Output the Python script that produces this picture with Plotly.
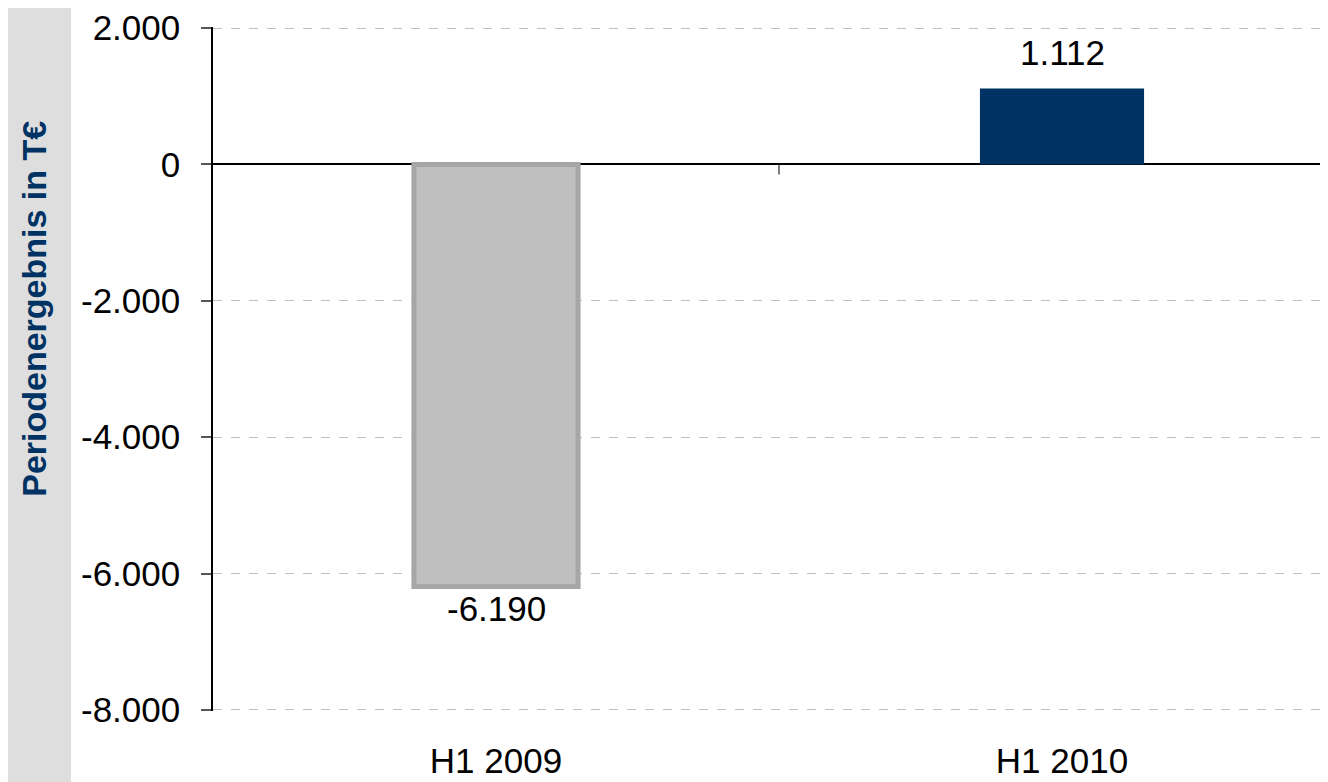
import plotly.graph_objects as go

categories = ["H1 2009", "H1 2010"]
values = [-6190, 1112]
bar_colors = ["#BFBFBF", "#003263"]
bar_line_colors = ["#A6A6A6", "#003263"]
bar_line_widths = [5, 0]
y_tickvals = [2000, 0, -2000, -4000, -6000, -8000]
y_ticktext = ["2.000", "0", "-2.000", "-4.000", "-6.000", "-8.000"]
y_title = "Periodenergebnis in T€"


def de_fmt(v):
    s = f"{abs(v):,}".replace(",", ".")
    return ("-" if v < 0 else "") + s


FONT = "Liberation Sans, Arial"
W, H = 1328, 782
OFF = 8  # page body margin
ml, mr, mt, mb = 213 - OFF, 0, 16, 79
plot_w = W - ml - mr
plot_h = H - mt - mb

fig = go.Figure()
fig.add_trace(go.Bar(
    x=categories,
    y=values,
    width=0.29,
    marker=dict(color=bar_colors, line=dict(color=bar_line_colors, width=bar_line_widths)),
    showlegend=False,
    hoverinfo="x+y",
))

# data labels
for c, v in zip(categories, values):
    fig.add_annotation(x=c, y=v, text=de_fmt(v), showarrow=False,
                       xref="x", yref="y", yanchor="middle",
                       yshift=36 if v >= 0 else -22,
                       font=dict(size=35, color="black", family=FONT))

# left grey band
fig.add_shape(type="rect", xref="paper", yref="paper",
              x0=-(ml + 20) / plot_w, x1=(71 - OFF - ml) / plot_w,
              y0=-(mb + 20) / plot_h, y1=1 + (mt + 20) / plot_h,
              fillcolor="#DEDEDE", line=dict(width=0), layer="below")

# category divider tick on the zero line
fig.add_shape(type="line", xref="x", yref="y", x0=0.5, x1=0.5,
              ysizemode="pixel", yanchor=0, y0=0, y1=-10,
              line=dict(color="#555555", width=1.5))

fig.add_annotation(text="<b>" + y_title + "</b>", xref="paper", yref="paper",
                   x=(34 - OFF - ml) / plot_w, y=((H - mb) - (307 - OFF)) / plot_h,
                   textangle=-90, showarrow=False,
                   font=dict(size=34, color="#003263", family=FONT),
                   xanchor="center", yanchor="middle")

fig.update_layout(
    width=W, height=H,
    margin=dict(l=ml, r=mr, t=mt, b=mb),
    paper_bgcolor="white", plot_bgcolor="white",
    font=dict(family=FONT, size=35, color="black"),
    xaxis=dict(
        range=[-0.5, -0.5 + plot_w / 566],
        showgrid=False, zeroline=False, showline=False, ticks="",
        tickfont=dict(size=35), ticklabelstandoff=26,
    ),
    yaxis=dict(
        range=[-8015, 2015],
        tickvals=y_tickvals, ticktext=y_ticktext,
        showgrid=True, gridcolor="#C0C0C0", griddash="dash", gridwidth=1,
        zeroline=True, zerolinecolor="black", zerolinewidth=1.5,
        showline=True, linecolor="black", linewidth=1.5,
        ticks="outside", ticklen=10, tickcolor="#555555", tickwidth=1.5,
        tickfont=dict(size=35), ticklabelstandoff=14,
        ticklabeloverflow="allow",
    ),
)

fig.write_html("out.html")
